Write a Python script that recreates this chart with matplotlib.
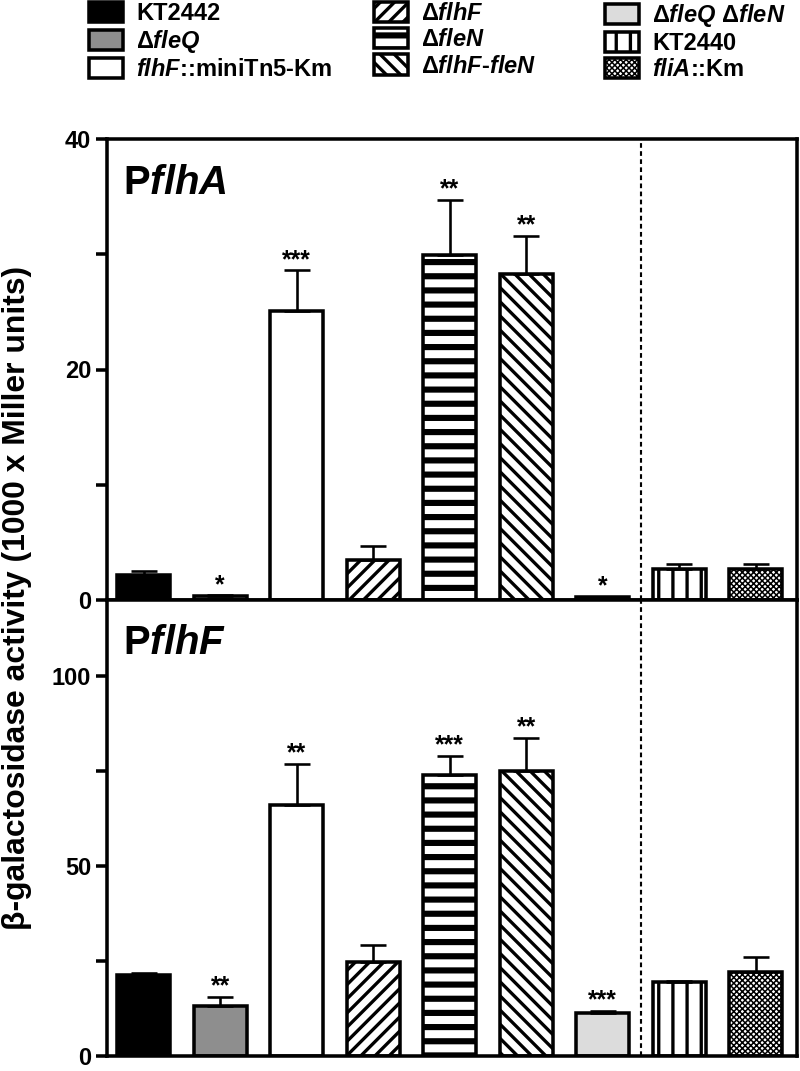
import numpy as np
import matplotlib
matplotlib.use("Agg")
import matplotlib.pyplot as plt

DPI = 170
P = 72 / DPI  # one pixel in points

plt.rcParams['font.family'] = ['Liberation Sans', 'DejaVu Sans']
plt.rcParams['font.weight'] = 'bold'
plt.rcParams['mathtext.fontset'] = 'custom'
plt.rcParams['mathtext.rm'] = 'Liberation Sans:bold'
plt.rcParams['mathtext.it'] = 'Liberation Sans:italic:bold'
plt.rcParams['mathtext.bf'] = 'Liberation Sans:bold'

# strains, in plotting order
strains = ["KT2442", r"Δ$\mathit{fleQ}$", r"$\mathit{flhF}$::miniTn$\mathit{5}$-Km",
           r"Δ$\mathit{flhF}$", r"Δ$\mathit{fleN}$", r"Δ$\mathit{flhF}$-$\mathit{fleN}$",
           r"Δ$\mathit{fleQ}$ Δ$\mathit{fleN}$", "KT2440", r"$\mathit{fliA}$::Km"]

# PflhA fusion (1000 x Miller units)
flha_mean = [2.2, 0.35, 25.1, 3.5, 29.9, 28.3, 0.25, 2.65, 2.65]
flha_err = [0.35, 0.05, 3.5, 1.15, 4.8, 3.3, 0.05, 0.45, 0.45]
flha_sig = ["", "*", "***", "", "**", "**", "*", "", ""]

# PflhF fusion
flhf_mean = [21.3, 13.2, 66.1, 24.7, 73.9, 75.0, 11.4, 19.5, 22.1]
flhf_err = [0.5, 2.3, 10.7, 4.5, 5.0, 8.7, 0.4, 0.2, 3.9]
flhf_sig = ["", "**", "**", "", "***", "**", "***", "", ""]

# fill, hatch, hatch linewidth
styles = [
    ("black", None, 1.0),
    ("#8e8e8e", None, 1.0),
    ("white", None, 1.0),
    ("white", "////", 1.4),
    ("white", "--", 2.6),
    ("white", "\\\\\\\\", 1.4),
    ("#dcdcdc", None, 1.0),
    ("white", "||", 1.4),
    ("white", "x" * 10, 0.65),
]


def hatch_lw(patch, lw):
    if hasattr(patch, 'set_hatch_linewidth'):
        patch.set_hatch_linewidth(lw)
    if hasattr(patch, '_hatch_linewidth'):
        patch._hatch_linewidth = lw
    # older versions read it from rcParams while drawing
    orig = patch.draw

    def draw(renderer):
        with plt.rc_context({'hatch.linewidth': lw}):
            orig(renderer)
    patch.draw = draw


fig = plt.figure(figsize=(800 / DPI, 1071 / DPI), dpi=DPI)
left, width = 107 / 800, 690 / 800
ax1 = fig.add_axes([left, 1 - 600 / 1071, width, 461 / 1071])
ax2 = fig.add_axes([left, 1 - 1056 / 1071, width, 456 / 1071])

x = np.arange(len(strains))


def draw_panel(ax, means, errs, sigs, ymax, ticks, shown, name):
    for i in range(len(strains)):
        fc, hatch, hlw = styles[i]
        with plt.rc_context({'hatch.linewidth': hlw}):
            b = ax.bar(x[i], means[i], width=0.69, color=fc, edgecolor='black',
                       linewidth=1.5, hatch=hatch, label=strains[i], zorder=2)
        hatch_lw(b.patches[0], hlw)
    ax.errorbar(x, means, yerr=[np.zeros(len(x)), errs], fmt='none', ecolor='black',
                elinewidth=1.1, capsize=5.7, capthick=1.1, zorder=3)
    for i, s in enumerate(sigs):
        if s:
            ax.annotate(s, (x[i], means[i] + errs[i]), xytext=(0, 1.5),
                        textcoords='offset points', ha='center', va='baseline',
                        fontsize=10.5, zorder=4)
    ax.axvline(6.5, color='black', lw=0.9, ls=(0, (2.2, 1.6)), zorder=1)
    ax.set_xlim(-0.48, 8.54)
    ax.set_ylim(0, ymax)
    ax.set_xticks([])
    ax.set_yticks(ticks)
    ax.set_yticklabels([str(t) if t in shown else "" for t in ticks])
    ax.tick_params(axis='y', direction='out', length=11 * P, width=1.5,
                   labelsize=10, pad=2)
    for sp in ax.spines.values():
        sp.set_linewidth(1.5)
    ax.text(0.023, 0.881, name, transform=ax.transAxes, fontsize=17,
            ha='left', va='baseline')


draw_panel(ax1, flha_mean, flha_err, flha_sig, 40, [0, 10, 20, 30, 40], [0, 20, 40],
           r"P$\mathit{flhA}$")
draw_panel(ax2, flhf_mean, flhf_err, flhf_sig, 120, [0, 25, 50, 75, 100], [0, 50, 100],
           r"P$\mathit{flhF}$")

fig.text(17 / 800, 1 - 598 / 1071, "β-galactosidase activity (1000 x Miller units)",
         rotation=90, ha='center', va='center', fontsize=13.5)

# legend in three columns at the top
handles = ax1.containers[:len(strains)]
col_x = [89 / 800, 374 / 800, 605 / 800]
for j in range(3):
    leg = fig.legend(handles[3 * j:3 * j + 3], strains[3 * j:3 * j + 3], loc='upper left',
                     bbox_to_anchor=(col_x[j], 1 - 2 / 1071), frameon=False, fontsize=10,
                     handlelength=1.45, handleheight=0.95, handletextpad=0.55,
                     labelspacing=0.12, borderaxespad=0, borderpad=0)
    for k, patch in enumerate(leg.get_patches()):
        hatch_lw(patch, styles[3 * j + k][2])

fig.savefig("out.png", dpi=DPI)
